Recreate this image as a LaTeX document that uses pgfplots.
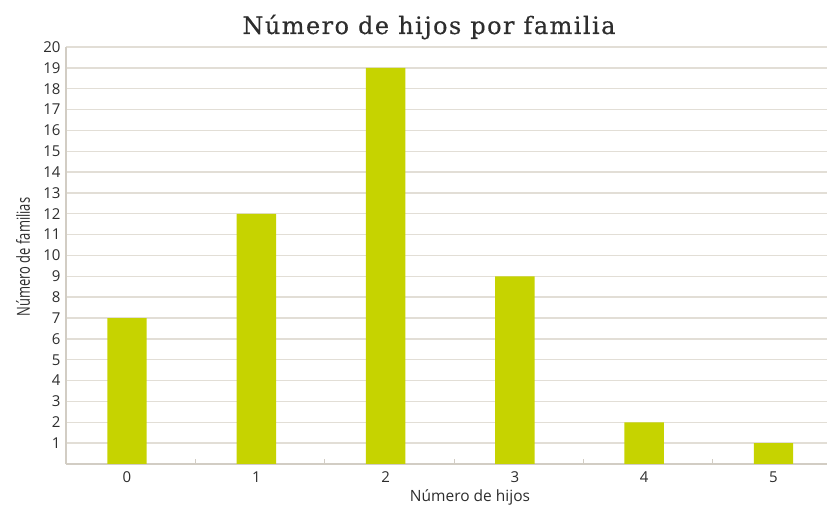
\documentclass[border=0pt]{standalone}
\usepackage{fontspec}
\setmainfont{Open Sans}
\newfontfamily\titlefont[LetterSpace=6,FakeBold=0.4]{DejaVu Serif}
\newfontfamily\condfont[FakeStretch=0.72]{Open Sans}
\usepackage{pgfplots}
\pgfplotsset{compat=1.18}
\definecolor{barc}{RGB}{198,211,0}
\definecolor{gridc}{RGB}{226,222,214}
\definecolor{axc}{RGB}{210,205,196}
\definecolor{txt}{RGB}{45,45,45}
\begin{document}
\begin{tikzpicture}[x=1pt,y=1pt]
\begin{axis}[
  at={(66pt,46pt)}, anchor=south west,
  scale only axis, width=761pt, height=417pt,
  xmin=-0.472, xmax=5.414, ymin=0, ymax=20,
  axis x line*=bottom, axis y line*=left,
  axis line style={draw=axc, line width=1.2pt},
  ytick={1,...,20},
  ymajorgrids,
  major grid style={draw=gridc, line width=1.4pt},
  xtick={0,...,5},
  minor xtick={0.53,1.53,2.53,3.53,4.53},
  tick align=inside,
  major tick length=0pt,
  minor tick length=5pt,
  minor x tick style={draw=axc, line width=1pt},
  /pgf/number format/assume math mode=true,
  ticklabel style={font=\fontsize{15}{18}\selectfont, text=txt},
  yticklabel style={xshift=-2pt},
  xticklabel style={yshift=-4pt},
  clip=false,
]
\addplot[ybar, bar width=0.305, fill=barc, draw=none] coordinates {(0,7) (1,12) (2,19) (3,9) (4,2) (5,1)};
\end{axis}
\node[font=\titlefont\fontsize{24}{27}\selectfont, text=txt, anchor=base] at (429,476) {Número de hijos por familia};
\node[font=\fontsize{15.5}{18}\selectfont, text=txt] at (470,13) {Número de hijos};
\node[font=\condfont\fontsize{18}{20}\selectfont, text=txt, rotate=90] at (23,253) {Número de familias};
\pgfresetboundingbox
\path (0,0) rectangle (827,510);
\end{tikzpicture}
\end{document}
